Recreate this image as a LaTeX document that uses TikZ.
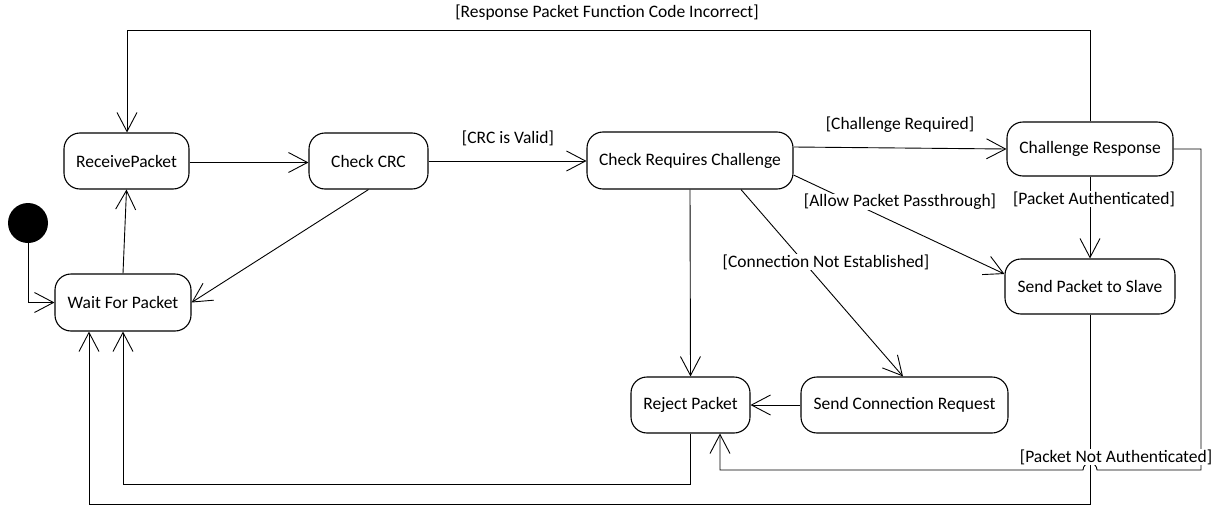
\documentclass[tikz,border=0pt]{standalone}
\usepackage{fontspec}
\setmainfont{Carlito}
\usetikzlibrary{arrows.meta,calc}
\begin{document}
\begin{tikzpicture}[x=1pt,y=-1pt,
  state/.style={draw, line width=1.1pt, rounded corners=16pt, inner sep=0pt,
    font=\fontsize{17.5}{21}\selectfont},
  arr/.style={line width=0.9pt,
    -{Straight Barb[length=19pt,width=20pt,line width=0.9pt]}},
  guard/.style={font=\fontsize{17.5}{21}\selectfont, inner sep=0.5pt},
  cover/.style={guard, fill=white}]

\useasboundingbox (0,0) rectangle (1229,506);

% states
\node[state, minimum width=125pt, minimum height=56pt] (recv) at (126.5,161) {ReceivePacket};
\node[state, minimum width=136pt, minimum height=57pt] (wait) at (123,302.5) {Wait For Packet};
\node[state, minimum width=119pt, minimum height=56pt] (crc)  at (368.5,161) {Check CRC};
\node[state, minimum width=206pt, minimum height=57pt] (chk)  at (690,160.5) {Check Requires Challenge};
\node[state, minimum width=166pt, minimum height=54pt] (chal) at (1090,149) {Challenge Response};
\node[state, minimum width=170pt, minimum height=55pt] (send) at (1090,286.5) {Send Packet to Slave};
\node[state, minimum width=119pt, minimum height=56pt] (rej)  at (690.5,405) {Reject Packet};
\node[state, minimum width=207pt, minimum height=56pt] (conn) at (904.5,405) {Send Connection Request};
\node[circle, fill=black, minimum size=40pt, inner sep=0pt] (init) at (28,223) {};

% routing points
\coordinate (topL) at (127,30);
\coordinate (botO) at (89,504);
\coordinate (botI) at (123,484.5);
\coordinate (naR)  at (1201,470);
\coordinate (hopR) at (1097,470);
\coordinate (naL)  at (720,470);

% transitions
\draw[arr] (init.south) |- (wait.west);
\draw[arr] (wait.north) -- (recv.south);
\draw[arr] ($(recv.east)+(0,1.5)$) -- ($(crc.west)+(0,1.5)$);
\draw[arr] (crc.south) -- (wait.east);
\draw[arr] (crc.east) -- (crc.east -| chk.west);
\draw[arr] ($(chk.east)+(0,-13.5)$) -- (chal.west);
\draw[arr] ($(chk.east)+(0,14.5)$) -- ($(send.west)+(0,-12.5)$);
\draw[arr] ($(chk.south)+(51,0)$) -- ($(conn.north)+(-1.5,0)$);
\draw[arr] (chk.south) -- (rej.north);
\draw[arr] (conn.west) -- (rej.east);
\draw[arr] (chal.south) -- (send.north);
\draw[arr] (chal.north) |- (topL) -- (topL |- recv.north);
\draw[arr] (send.south) |- (botO) -- (botO |- wait.south);
\draw[arr] (rej.south) |- (botI) -- (wait.south);
\draw[arr] (chal.east) -| (naR) -- (hopR)
  arc[start angle=0, end angle=-180, radius=7] -- (naL) -- (naL |- rej.south);

% guards
\node[guard] (lfunc)  at (607,13)   {[Response Packet Function Code Incorrect]};
\node[guard] (lvalid) at (508,138)  {[CRC is Valid]};
\node[cover] (lreq)   at (900,125)  {[Challenge Required]};
\node[cover] (lpass)  at (900,202)  {[Allow Packet Passthrough]};
\node[cover] (lconn)  at (826,262)  {[Connection Not Established]};
\node[cover] (lauth)  at (1094,199) {[Packet Authenticated]};
\node[cover] (lnauth) at (1116,457) {[Packet Not Authenticated]};
\end{tikzpicture}
\end{document}
